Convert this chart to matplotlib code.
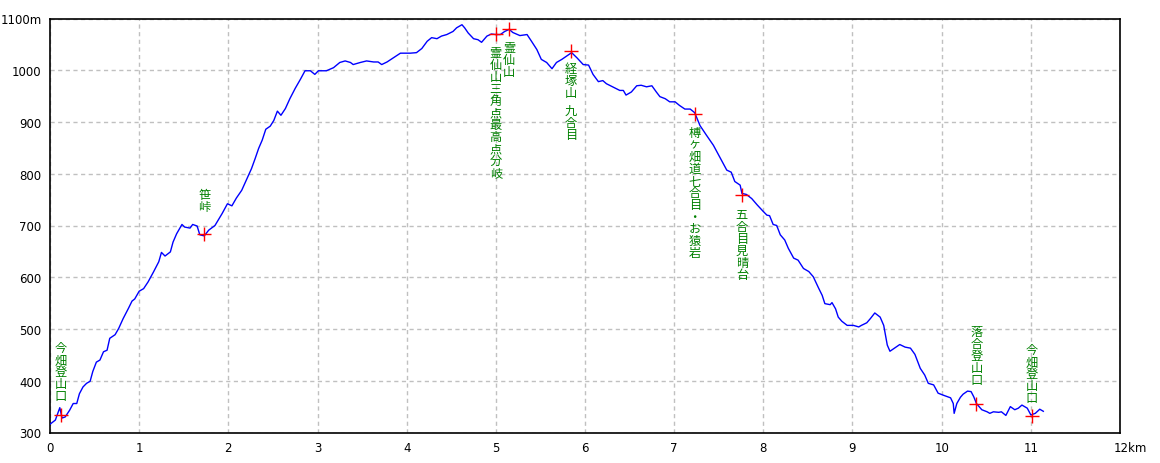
import matplotlib
matplotlib.use("Agg")
import matplotlib.pyplot as plt

# === Data: elevation profile (km, m) ===
dist_km = [0.00, 0.06, 0.11, 0.135, 0.17, 0.22, 0.26, 0.30, 0.33, 0.37, 0.41, 0.45,
           0.48, 0.52, 0.56, 0.60, 0.64, 0.67, 0.73, 0.77, 0.82, 0.88, 0.92, 0.95,
           1.00, 1.05, 1.10, 1.16, 1.22, 1.25, 1.29, 1.35, 1.38, 1.42, 1.48, 1.51,
           1.57, 1.60, 1.65, 1.68, 1.73, 1.78, 1.85, 1.93, 1.99, 2.04, 2.09, 2.15,
           2.21, 2.26, 2.30, 2.34, 2.38, 2.42, 2.47, 2.51, 2.55, 2.59, 2.64, 2.69,
           2.75, 2.81, 2.86, 2.92, 2.97, 3.01, 3.10, 3.18, 3.25, 3.31, 3.37, 3.40,
           3.48, 3.55, 3.63, 3.68, 3.72, 3.78, 3.85, 3.93, 4.04, 4.11, 4.17, 4.23,
           4.28, 4.34, 4.39, 4.45, 4.52, 4.56, 4.62, 4.65, 4.69, 4.75, 4.80, 4.84,
           4.90, 4.95, 5.00, 5.05, 5.10, 5.15, 5.19, 5.27, 5.35, 5.40, 5.46, 5.51,
           5.57, 5.63, 5.68, 5.74, 5.79, 5.85, 5.91, 5.98, 6.04, 6.09, 6.15, 6.20,
           6.24, 6.31, 6.39, 6.43, 6.46, 6.52, 6.58, 6.63, 6.69, 6.75, 6.80, 6.84,
           6.90, 6.95, 7.01, 7.06, 7.12, 7.18, 7.23, 7.29, 7.36, 7.44, 7.49, 7.55,
           7.59, 7.64, 7.68, 7.74, 7.76, 7.81, 7.87, 7.93, 8.00, 8.04, 8.07, 8.11,
           8.15, 8.19, 8.24, 8.28, 8.34, 8.39, 8.45, 8.51, 8.56, 8.62, 8.66, 8.69,
           8.75, 8.77, 8.81, 8.84, 8.88, 8.94, 9.01, 9.07, 9.10, 9.16, 9.20, 9.25,
           9.31, 9.35, 9.39, 9.42, 9.48, 9.53, 9.59, 9.65, 9.70, 9.76, 9.81, 9.85,
           9.91, 9.96, 10.02, 10.10, 10.13, 10.14, 10.17, 10.21, 10.24, 10.29, 10.33,
           10.36, 10.39, 10.45, 10.51, 10.54, 10.58, 10.64, 10.67, 10.72, 10.77,
           10.82, 10.86, 10.90, 10.96, 11.00, 11.05, 11.10, 11.14]
elev_m = [316, 324, 348, 328, 330, 343, 356, 356, 375, 388, 395, 399,
          418, 436, 440, 456, 459, 482, 489, 501, 520, 540, 554, 558,
          573, 578, 591, 610, 630, 648, 641, 649, 668, 684, 702, 697,
          695, 702, 699, 682, 680, 691, 700, 723, 742, 738, 753, 768,
          791, 810, 829, 849, 865, 886, 892, 903, 921, 913, 926, 945,
          965, 983, 999, 999, 992, 999, 999, 1005, 1015, 1018, 1015, 1011,
          1015, 1018, 1016, 1016, 1011, 1016, 1024, 1033, 1033, 1034, 1042, 1056,
          1063, 1061, 1066, 1069, 1075, 1082, 1088, 1082, 1072, 1061, 1059, 1054,
          1066, 1070, 1069, 1069, 1075, 1079, 1073, 1067, 1069, 1056, 1040, 1021,
          1015, 1003, 1015, 1021, 1027, 1034, 1024, 1011, 1010, 992, 978, 980,
          974, 968, 961, 961, 952, 958, 970, 971, 968, 970, 958, 949,
          945, 939, 939, 932, 925, 925, 918, 893, 875, 855, 839, 820,
          807, 803, 785, 778, 762, 760, 752, 740, 727, 720, 719, 702,
          700, 682, 672, 656, 637, 633, 617, 611, 601, 579, 565, 549,
          547, 551, 539, 523, 515, 507, 507, 504, 507, 512, 520, 531,
          523, 507, 469, 457, 464, 470, 465, 463, 451, 424, 411, 395,
          392, 376, 372, 367, 356, 337, 356, 368, 374, 380, 379,
          369, 356, 344, 340, 337, 340, 339, 340, 333, 350,
          344, 347, 353, 347, 334, 337, 345, 341]

# === Waypoints ===
wp_names = ["今畑登山口", "笹峠", "霊仙山三角点最高点分岐", "霊仙山", "経塚山 九合目",
            "榑ヶ畑道七合目・お猿岩", "五合目見晴台", "落合登山口", "今畑登山口"]
wp_km = [0.12, 1.73, 5.00, 5.15, 5.84, 7.23, 7.76, 10.39, 11.01]
wp_elev = [333, 683, 1070, 1080, 1037, 916, 759, 356, 331]

# label layout: pixel gap between marker and label (+ above, - below)
label_offset_px = [14, 22, -12, -12, -11, -12, -13, 19, 13]

GREEN = "#008000"
JP_FONT = ["Noto Sans CJK JP", "DejaVu Sans"]
PX = 0.72   # points per pixel at dpi 100
PITCH = 12  # pixels per stacked character

fig = plt.figure(figsize=(11.6, 4.64), dpi=100)
ax = fig.add_axes([50 / 1160, (464 - 433.5) / 464, 1070 / 1160, 414 / 464])

ax.plot(dist_km, elev_m, color="#0000ff", linewidth=1.0, zorder=3)
ax.plot(wp_km, wp_elev, linestyle="none", marker="+", color="#ff0000",
        markersize=10, markeredgewidth=1.0, zorder=4)

# vertical (stacked) labels, one character per step
for name, x, y, off in zip(wp_names, wp_km, wp_elev, label_offset_px):
    steps = [PITCH / 2 if ch == " " else PITCH for ch in name]
    pos = off + sum(steps) if off > 0 else off
    for ch, st in zip(name, steps):
        if ch != " ":
            ax.annotate(ch, xy=(x, y), xytext=(0, pos * PX), textcoords="offset points",
                        ha="center", va="top", fontsize=8.8, color=GREEN,
                        family=JP_FONT, zorder=5)
        pos -= st

ax.set_xlim(0, 12)
ax.set_ylim(300, 1100)
ax.set_xticks(range(0, 13))
ax.set_yticks(range(300, 1101, 100))
ax.set_xticklabels([str(i) for i in range(12)] + [""])
ax.set_yticklabels([str(v) for v in range(300, 1100, 100)] + ["1100m"])
ax.tick_params(length=0, labelsize=8.5, pad=6)
ax.annotate("12km", xy=(12, 0), xycoords=("data", "axes fraction"),
            xytext=(-4.5, -6), textcoords="offset points",
            ha="left", va="top", fontsize=8.5)

ax.grid(True, color="#c0c0c0", linestyle=(0, (3, 2.5)), linewidth=1.0)
for s in ax.spines.values():
    s.set_color("black")
    s.set_linewidth(1.2)

fig.savefig("out.png", dpi=100)
